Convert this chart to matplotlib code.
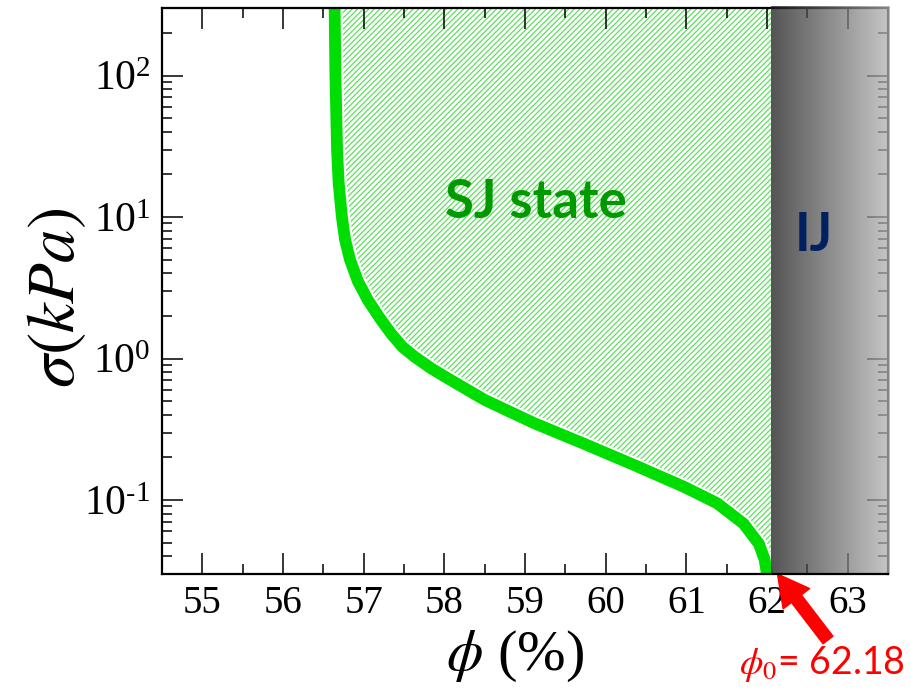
import numpy as np
import matplotlib
matplotlib.use("Agg")
import matplotlib.pyplot as plt
from matplotlib.colors import LinearSegmentedColormap
from matplotlib.transforms import blended_transform_factory
from matplotlib.ticker import LogLocator, MultipleLocator, NullFormatter, FuncFormatter

# ---- data ----
sigma_kpa = [300, 100, 30, 17.4, 10, 6.9, 5, 3.5, 2.6, 1.93, 1.5, 1.21, 1.03, 0.85,
             0.72, 0.51, 0.35, 0.25, 0.177, 0.124, 0.095, 0.068, 0.049, 0.038, 0.03]
phi_pct = [56.64, 56.65, 56.67, 56.69, 56.73, 56.77, 56.83, 56.93, 57.05, 57.2,
           57.34, 57.48, 57.63, 57.84, 58.05, 58.5, 59.11, 59.73, 60.35, 60.97,
           61.38, 61.71, 61.9, 61.97, 62.0]
ij_boundary = 62.05
phi0 = 62.18
x_ticks = [55, 56, 57, 58, 59, 60, 61, 62, 63]
xlim = (54.5, 63.5)
ylim = (0.03, 300)

plt.rcParams['mathtext.fontset'] = 'stix'
plt.rcParams['axes.unicode_minus'] = False
plt.rcParams['hatch.linewidth'] = 0.9
plt.rcParams['hatch.color'] = '#5ee05e'

fig = plt.figure(figsize=(9.12, 6.92), dpi=100)
ax = fig.add_axes([162/912, 1-574/692, (888-162)/912, (574-8)/692])
ax.set_yscale('log')
ax.set_xlim(*xlim)
ax.set_ylim(*ylim)

# hatched SJ region
ax.fill_betweenx(sigma_kpa, phi_pct, ij_boundary, facecolor='none',
                 edgecolor='#5ee05e', hatch='//////', linewidth=0, zorder=1)
# white halo + green boundary curve
ax.plot(phi_pct, sigma_kpa, color='white', lw=11.5, solid_capstyle='butt',
        solid_joinstyle='round', zorder=2)
ax.plot(phi_pct, sigma_kpa, color='#00dd00', lw=8.5, solid_capstyle='butt',
        solid_joinstyle='round', zorder=2.1)

# gray IJ gradient
cmap = LinearSegmentedColormap.from_list('g', ['#1c1c1c', '#b5b5b5'])
grad = np.linspace(0, 1, 256).reshape(1, -1)
trans = blended_transform_factory(ax.transData, ax.transAxes)
ax.imshow(grad, cmap=cmap, aspect='auto', extent=[ij_boundary, xlim[1] + 0.03, 0, 1.004],
          transform=trans, alpha=0.75, zorder=3, clip_on=False, interpolation='bilinear')
ax.set_xlim(*xlim)
ax.set_ylim(*ylim)


def ylab(v, pos):
    e = int(round(np.log10(v)))
    if e < 0:
        return r'$\mathregular{10^{\text{-}%d}}$' % (-e)
    return r'$\mathregular{10^{%d}}$' % e


# ticks
ax.set_xticks(x_ticks)
ax.xaxis.set_minor_locator(MultipleLocator(0.5))
ax.yaxis.set_major_locator(LogLocator(base=10, numticks=10))
ax.yaxis.set_minor_locator(LogLocator(base=10, subs=np.arange(2, 10), numticks=20))
ax.yaxis.set_minor_formatter(NullFormatter())
ax.yaxis.set_major_formatter(FuncFormatter(ylab))
ax.tick_params(which='both', direction='in', top=True, right=True, width=1.1)
ax.tick_params(which='major', length=15)
ax.tick_params(which='minor', length=7)
ax.tick_params(axis='x', which='major', labelsize=28, pad=8)
ax.tick_params(axis='y', which='major', labelsize=30, pad=8)
for lab in ax.get_xticklabels() + ax.get_yticklabels():
    lab.set_fontfamily('Liberation Serif')
for s in ax.spines.values():
    s.set_linewidth(1.6)
ax.spines['bottom'].set_zorder(5)
ax.spines['left'].set_zorder(5)

# labels
fig.text(55/912, 1-298/692, r'$\sigma(kPa)$', rotation=90, ha='center', va='center',
         fontsize=48)
fig.text(515/912, 1-656/692, r'$\phi$ (%)', ha='center', va='center', fontsize=42,
         family='Liberation Serif')

ax.text(59.14, 10 ** 1.10, 'SJ state', color='#009a00', fontsize=38,
        fontweight='bold', family='Lato', ha='center', va='center', zorder=4)
ax.text(62.58, 10 ** 0.87, 'IJ', color='#002060', fontsize=38, fontweight='bold',
        family='Lato', ha='center', va='center', zorder=4)

# phi0 annotation
ax.annotate('', xy=(phi0 - 0.05, ylim[0]), xycoords='data',
            xytext=(828, 692 - 640), textcoords='figure pixels',
            arrowprops=dict(arrowstyle='simple,head_length=0.7,head_width=0.75,tail_width=0.28',
                            color='red', mutation_scale=32, shrinkA=0, shrinkB=0),
            annotation_clip=False)
fig.text(822/912, 1-664/692, r'$\phi_0$= ' + f'{phi0:.2f}', color='red', fontsize=27,
         family='Lato', ha='center', va='center')

fig.savefig('out.png', dpi=100)
